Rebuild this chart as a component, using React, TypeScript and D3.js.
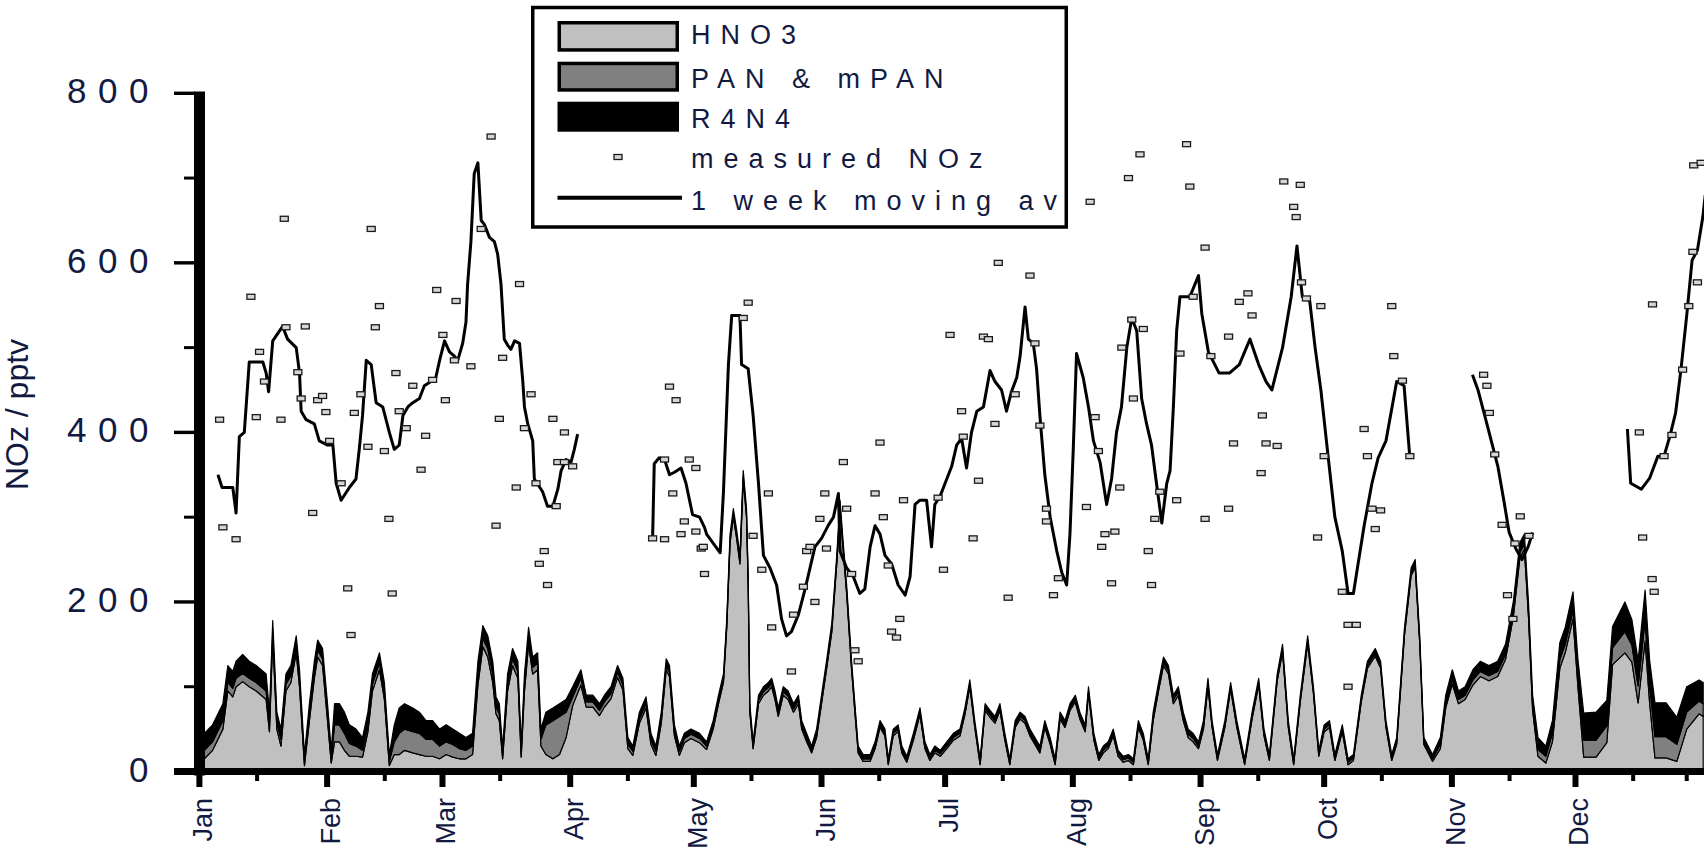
import React from "react";
import * as d3 from "d3";

// ---------- data ----------
// stacked area: day of year and layer values (pptv)
const areaDays = [
  0, 1.2, 3.2, 5.7, 6.9, 8.1, 8.9, 10.5, 12.1, 13.8,
  16.2, 17, 17.8, 18.8, 19.8, 21, 22.2, 23.5, 24.3, 25.5,
  26.7, 27.9, 28.7, 29.9, 31.1, 32, 32.8, 34, 35.2, 36.4,
  38, 39.6, 40.9, 42, 43.7, 44.9, 46.1, 47.3, 48.5, 49.8,
  51.8, 53.4, 55, 56.6, 58.3, 59.9, 61.5, 63.1, 64.7, 66.3,
  67.6, 68.8, 70, 71.2, 72, 72.8, 73.6, 74.8, 76, 77.3,
  78.1, 78.9, 79.9, 80.9, 82.1, 82.9, 84.1, 85.8, 87.4, 89,
  90.6, 92.6, 93.9, 95.5, 97.1, 98.3, 99.9, 101.5, 102.8, 104,
  105.2, 106.8, 108.4, 109.6, 110.8, 112.1, 113.3, 114.1, 115.3, 116.5,
  117.7, 119.3, 121.4, 123.1, 124.7, 126, 127.2, 128, 128.8, 129.6,
  130.4, 131.2, 132, 132.8, 133.2, 133.6, 134.4, 135.7, 136.9, 138.1,
  138.9, 139.7, 140.5, 141.7, 142.9, 144.2, 145.4, 146.2, 147.4, 148.6,
  149.8, 151, 152.2, 153.5, 154.7, 155.5, 156.1, 157.1, 158.3, 159.1,
  159.9, 161.1, 162.8, 164, 165.2, 166.4, 167.2, 168.4, 169.6, 170.5,
  171.7, 173.3, 174.9, 176.1, 177.3, 178.5, 179.8, 181.4, 183, 184.6,
  185.8, 187, 188.2, 189.5, 190.7, 191.9, 193.1, 194.3, 195.5, 196.7,
  198, 199.2, 200.4, 201.6, 202.8, 204, 205.2, 206.5, 207.7, 208.9,
  210.1, 211.3, 212.6, 213.7, 215, 215.8, 217.1, 218.3, 219.4, 220.6,
  221.8, 223, 224.2, 225.5, 226.7, 227.9, 229.1, 230.3, 231.5, 232.8,
  234, 235.2, 236.4, 237.6, 238.8, 240, 241.2, 242.5, 243.7, 244.8,
  245.8, 247.1, 248.9, 250.3, 251.8, 253.7, 255.5, 257.1, 258.4, 259.7,
  261.6, 262.9, 264.3, 265.6, 267.2, 269, 270.4, 271.7, 273, 274.3,
  275.6, 277.4, 278.8, 280.1, 282, 283.5, 285.4, 286.7, 288, 289.4,
  290.6, 292.5, 294.1, 295.1, 296.2, 297.2, 299.3, 301.2, 302.5, 304.1,
  305.6, 307.2, 309.1, 310.9, 313, 315.1, 317, 318.9, 320.5, 321.6,
  322.6, 323.6, 324.9, 326.8, 328.4, 330.2, 331.5, 333.4, 334.6, 336,
  339, 341.6, 343, 346, 347.7, 349.2, 350.9, 352, 353.3, 356,
  358.6, 361, 364, 365,
];
const hno3Values = [
  15, 15, 25, 50, 95, 88, 100, 106, 100, 95,
  85, 47, 158, 50, 30, 95, 105, 140, 100, 7,
  60, 110, 135, 125, 60, 10, 35, 35, 25, 18,
  18, 17, 47, 95, 120, 85, 7, 20, 20, 25,
  22, 20, 18, 18, 15, 20, 17, 15, 15, 20,
  102, 147, 135, 105, 68, 60, 15, 95, 125, 110,
  17, 95, 150, 115, 120, 30, 20, 15, 20, 40,
  78, 102, 76, 76, 66, 76, 86, 111, 96, 27,
  19, 57, 75, 32, 19, 57, 120, 112, 42, 19,
  34, 39, 34, 26, 50, 80, 105, 170, 270, 300,
  275, 245, 345, 300, 220, 70, 27, 80, 90, 95,
  100, 85, 65, 90, 85, 70, 80, 50, 35, 22,
  40, 80, 120, 165, 245, 310, 270, 210, 120, 70,
  22, 12, 12, 27, 52, 42, 8, 42, 47, 22,
  11, 37, 67, 27, 13, 22, 18, 27, 37, 42,
  67, 100, 52, 8, 72, 64, 57, 72, 37, 8,
  52, 62, 57, 42, 32, 22, 52, 32, 8, 62,
  52, 72, 82, 62, 47, 92, 37, 13, 22, 27,
  42, 18, 11, 13, 8, 52, 37, 8, 60, 95,
  125, 115, 80, 90, 60, 40, 35, 27, 50, 100,
  52, 13, 52, 97, 52, 8, 62, 102, 42, 13,
  107, 141, 52, 8, 82, 151, 92, 18, 47, 52,
  13, 47, 8, 13, 82, 122, 136, 122, 52, 13,
  32, 161, 231, 241, 151, 32, 12, 27, 75, 103,
  80, 85, 102, 112, 107, 112, 132, 182, 252, 262,
  182, 72, 18, 10, 35, 122, 140, 180, 100, 17,
  17, 34, 126, 140, 129, 81, 154, 81, 16, 16,
  12, 50, 68, 65,
];
const panValues = [
  10, 10, 10, 10, 10, 10, 10, 10, 10, 10,
  10, 8, 8, 8, 8, 8, 8, 8, 8, 5,
  8, 8, 8, 8, 8, 5, 20, 20, 20, 15,
  12, 8, 8, 8, 8, 8, 5, 15, 25, 25,
  25, 25, 20, 20, 15, 15, 15, 12, 10, 10,
  10, 10, 10, 10, 8, 8, 5, 8, 8, 8,
  5, 8, 8, 8, 8, 8, 35, 45, 45, 30,
  10, 8, 6, 6, 6, 6, 6, 6, 6, 5,
  5, 5, 5, 5, 5, 5, 5, 5, 5, 5,
  5, 5, 5, 4, 4, 4, 4, 4, 4, 4,
  4, 4, 4, 4, 4, 4, 3, 4, 4, 4,
  4, 4, 4, 4, 4, 4, 4, 4, 4, 3,
  4, 4, 4, 4, 4, 4, 4, 4, 4, 4,
  3, 3, 3, 3, 3, 3, 3, 3, 3, 3,
  3, 3, 3, 3, 3, 3, 3, 3, 3, 3,
  3, 3, 3, 3, 3, 3, 3, 3, 3, 3,
  3, 3, 3, 3, 3, 3, 3, 3, 3, 3,
  3, 3, 3, 3, 3, 3, 3, 3, 3, 3,
  3, 3, 3, 3, 3, 3, 3, 3, 4, 4,
  4, 4, 4, 4, 4, 4, 4, 3, 4, 4,
  3, 3, 3, 3, 3, 3, 3, 3, 3, 3,
  3, 3, 3, 3, 3, 3, 3, 3, 3, 3,
  3, 3, 3, 3, 3, 3, 3, 3, 3, 3,
  3, 3, 3, 3, 3, 3, 3, 5, 5, 5,
  5, 5, 6, 6, 6, 6, 6, 6, 6, 6,
  6, 6, 8, 8, 10, 10, 10, 10, 10, 20,
  20, 20, 20, 25, 20, 20, 25, 20, 25, 25,
  20, 20, 15, 15,
];
const r4n4Values = [
  20, 20, 20, 20, 20, 20, 20, 22, 20, 20,
  20, 15, 12, 12, 12, 12, 12, 12, 12, 8,
  12, 12, 12, 12, 12, 10, 25, 25, 25, 22,
  20, 15, 15, 12, 12, 12, 8, 20, 30, 30,
  28, 25, 22, 22, 20, 20, 18, 18, 15, 15,
  18, 15, 15, 15, 12, 12, 8, 12, 12, 12,
  8, 12, 12, 12, 12, 12, 15, 15, 15, 15,
  12, 10, 8, 8, 8, 8, 8, 8, 8, 8,
  6, 8, 8, 8, 6, 8, 8, 8, 8, 6,
  6, 6, 6, 5, 6, 6, 6, 6, 6, 6,
  6, 6, 6, 6, 6, 6, 5, 6, 6, 6,
  6, 6, 6, 6, 6, 6, 6, 6, 6, 5,
  6, 6, 6, 6, 6, 6, 6, 6, 6, 6,
  5, 5, 5, 5, 5, 5, 4, 5, 5, 5,
  4, 5, 5, 5, 4, 5, 4, 5, 5, 5,
  5, 5, 5, 4, 5, 5, 5, 5, 5, 4,
  5, 5, 5, 5, 5, 5, 5, 5, 4, 5,
  5, 5, 5, 5, 5, 5, 5, 4, 5, 5,
  5, 4, 4, 4, 4, 5, 5, 4, 6, 6,
  6, 6, 6, 6, 6, 6, 6, 5, 6, 6,
  5, 4, 5, 5, 5, 4, 5, 5, 5, 4,
  5, 6, 5, 4, 5, 6, 5, 4, 5, 5,
  4, 5, 4, 4, 5, 5, 6, 5, 5, 4,
  5, 6, 6, 6, 6, 5, 5, 8, 10, 12,
  10, 10, 12, 12, 12, 12, 12, 12, 12, 12,
  12, 12, 14, 12, 15, 20, 20, 22, 22, 32,
  33, 30, 25, 35, 30, 30, 35, 30, 40, 40,
  32, 30, 25, 25,
];

// measured NOz (day of year, pptv)
const noxDays = [
  4.9, 5.7, 8.9, 12.5, 13.8, 14.6, 15.8, 19.8, 20.6, 21,
  23.9, 24.7, 25.7, 27.5, 28.7, 29.9, 30.7, 31.6, 34.4, 36,
  36.8, 37.6, 39.2, 40.9, 41.7, 42.7, 43.7, 44.9, 46, 46.8,
  47.7, 48.5, 50.2, 51.8, 53.8, 54.9, 56.6, 57.6, 59.1, 59.7,
  61.9, 62.3, 65.9, 68.4, 70.8, 72, 72.8, 73.6, 76.9, 77.7,
  78.9, 80.5, 81.7, 82.5, 83.7, 84.5, 85.8, 86.6, 87, 88.6,
  88.6, 90.6,
  110, 112.9, 112.9, 114.1, 114.9, 115.7, 116.9, 117.7, 118.9, 120.5,
  120.5, 121.8, 122.6, 122.3, 132, 133.2, 134.4, 136.5, 138.1, 138.9,
  143.7, 144.2, 146.6, 147.4, 148.2, 149.4, 150.6, 151.8, 152.2, 156.3,
  157.1, 158.3, 159.1, 159.9, 164, 165.2, 166, 167.2, 168, 169.2,
  170, 170.9, 179.3, 180.6, 182.2, 185, 185.4, 187.8, 189.1, 190.3,
  191.5, 193.1, 193.9, 196.3, 198, 201.6, 202.8, 204, 205.6, 205.6,
  207.3, 208.5, 215.3, 216.2, 217.4, 218.2, 219, 219.8, 221.4, 222.2,
  223.4, 223.9, 225.5, 226.3, 226.7, 228.3, 229.1, 230.3, 231.1, 231.9,
  233.1, 237.2, 238, 239.6, 240.4, 241.2, 244.1, 244.1, 245.5, 249.8,
  249.8, 251, 252.4, 254.5, 255.5, 258, 258.9, 257.7, 261.6, 263.2,
  265.6, 266.2, 267.2, 267.5, 268.7, 271.4, 272.2, 273, 277.4, 278.8,
  280.8, 278.8, 282.7, 283.5, 284.6, 285.4, 286.7, 289.4, 289.9, 292,
  293.8,
  311.7, 312.5, 313.1, 314.4, 316.2, 317.5, 318.8, 319.3, 320.6, 322.7,
  349.5, 350.3, 352.6, 353.1, 352.7, 355.5, 357.4, 360, 361.5, 362.5,
  363.6, 362.7, 364.5,
];
const noxValues = [
  415, 288, 274, 560, 418, 495, 460, 415, 652, 524,
  471, 440, 525, 305, 438, 443, 424, 390, 340, 216,
  161, 423, 445, 383, 640, 524, 549, 378, 298, 210,
  470, 425, 405, 455, 356, 396, 462, 568, 515, 438,
  485, 555, 478, 640, 749, 290, 416, 488, 335, 575,
  405, 445, 340, 245, 260, 220, 416, 313, 365, 400,
  365, 360,
  275, 368, 274, 454, 328, 438, 280, 295, 368, 358,
  283, 263, 233, 265, 535, 553, 278, 238, 328, 170,
  118, 185, 218, 260, 265, 200, 298, 328, 263, 365,
  310, 233, 143, 130, 328, 388, 300, 243, 165, 158,
  180, 320, 323, 238, 515, 425, 395, 275, 343, 513,
  510, 410, 600, 205, 445, 585, 505, 408, 310, 295,
  208, 228, 312, 672, 418, 378, 265, 280, 222, 283,
  335, 500, 700, 533, 440, 728, 522, 260, 220, 298,
  330, 320, 493, 740, 690, 560, 298, 618, 490, 513,
  310, 387, 554, 564, 538, 420, 387, 352, 384, 696,
  666, 654, 692, 577, 558, 276, 549, 372, 212, 173,
  173, 100, 404, 372, 310, 286, 308, 549, 490, 461,
  372,
  468, 455, 423, 374, 291, 208, 180, 269, 301, 278,
  400, 276, 227, 212, 551, 372, 397, 474, 549, 613,
  577, 715, 718,
];

// 1 week moving average (null = gap)
const avgDays = [
  4.5, 5.5, 8.1, 8.9, 9.7, 10.9, 12.1, 15.4, 16.2, 16.8,
  17.8, 20.2, 21.4, 23.5, 24.3, 24.7, 25.9, 27.9, 29.1, 31.1,
  32.4, 33.2, 34.4, 36.4, 38, 38.8, 39.6, 40.5, 41.7, 42.9,
  44.5, 46.1, 47.3, 48.5, 49.4, 50.6, 51.8, 53.4, 54.6, 56.2,
  57.4, 58.3, 59.5, 60.7, 61.9, 62.7, 63.9, 64.7, 65.1, 65.9,
  66.7, 67.6, 68.4, 69.2, 70.4, 71.6, 72.4, 73.2, 74, 74.8,
  75.6, 76.5, 77.7, 78.5, 78.9, 79.7, 80.9, 81.3, 83.3, 84.5,
  85.8, 87, 87.8, 89, 90.2, 91, 91.8,
  100,
  110, 110.4, 111.6, 112.9, 114.1, 115.3, 116.9, 118.1, 119.7, 121.4,
  122.6, 123.1, 126.4, 127.2, 128.4, 129.2, 131.2, 131.6, 133.2, 134.4,
  135.7, 136.9, 138.5, 140.1, 141.3, 142.5, 143.7, 145.4, 147, 148.2,
  149.4, 151, 152.6, 153.9, 155.1, 155.5, 157.1, 158.7, 160.3, 161.5,
  162.8, 164, 165.2, 166.4, 168, 169.6, 171.3, 172.5, 173.7, 174.9,
  176.5, 177.7, 178.5, 179.8, 181, 182.6, 183.8, 185, 186.2, 187.4,
  188.7, 190.3, 191.9, 193.1, 194.7, 195.9, 197.1, 198.4, 199.2, 200.4,
  201.2, 202.4, 203.2, 204, 205.2, 206.5, 208.1, 209.3, 210.5, 211.3,
  212.1, 212.9, 214.5, 215.8, 217, 218.6, 220.2, 221.4, 222.6, 223.8,
  225.1, 226.3, 227.5, 228.7, 229.9, 231.1, 232.3, 233.6, 234.8, 235.6,
  236.4, 237.2, 238, 240.4, 242.5, 243.3, 244.9, 247.5, 250, 252.4,
  255, 257.1, 258.9, 260.3, 262.9, 265, 266.4, 267.7, 269.5, 270.8,
  272.2, 274, 275.6, 277.4, 278.8, 280.1, 281.4, 282.7, 284.6, 286.1,
  288, 290.6, 292.4, 293.8,
  300,
  309, 310.4, 312.5, 315.2, 316.6, 317.9, 319.5, 321, 322.5, 323.6,
  330,
  346.6, 347.4, 350, 352, 354, 355.5, 357, 358.3, 359.6, 361,
  362.3, 363.6, 364.9, 365.5,
];
const avgValues: (number | null)[] = [
  350, 335, 335, 305, 395, 400, 483, 483, 470, 448,
  508, 525, 510, 500, 470, 425, 415, 410, 390, 385,
  385, 340, 320, 335, 345, 380, 420, 485, 480, 435,
  430, 400, 380, 385, 420, 430, 435, 440, 455, 460,
  465, 485, 508, 495, 490, 485, 505, 530, 575, 625,
  705, 718, 650, 645, 630, 625, 610, 575, 510, 503,
  498, 508, 505, 460, 430, 410, 390, 345, 330, 313,
  313, 333, 355, 368, 365, 380, 398,
  null,
  275, 363, 370, 368, 350, 353, 358, 340, 303, 300,
  288, 280, 258, 330, 480, 538, 538, 480, 475, 420,
  340, 255, 240, 220, 180, 160, 165, 185, 215, 240,
  265, 275, 290, 300, 328, 260, 240, 230, 210, 215,
  265, 290, 280, 255, 245, 220, 208, 230, 315, 320,
  320, 265, 315, 325, 340, 360, 385, 393, 358, 400,
  425, 430, 473, 460, 450, 425, 448, 465, 490, 548,
  510, 505, 475, 420, 350, 300, 260, 235, 220, 280,
  380, 493, 465, 430, 390, 365, 315, 345, 400, 430,
  500, 535, 520, 440, 410, 385, 340, 293, 340, 355,
  430, 520, 560, 560, 585, 540, 495, 470, 470, 480,
  510, 480, 460, 450, 500, 560, 620, 560, 555, 500,
  450, 370, 300, 260, 210, 210, 250, 290, 340, 370,
  390, 460, 455, 370,
  null,
  468, 449, 410, 359, 320, 282, 263, 250, 265, 282,
  null,
  404, 340, 333, 346, 372, 372, 397, 423, 474, 538,
  603, 615, 654, 680,
];

const yMajorTicks = [0, 200, 400, 600, 800];
const yMinorTicks = [100, 300, 500, 700];
const legendLabels = ["HNO3", "PAN & mPAN", "R4N4", "measured NOz", "1 week moving av"];
const layerKeys = ["hno3", "pan", "r4n4"];
const layerColors = ["#c0c0c0", "#808080", "#000000"];

// ---------- drawing ----------
const W = 1704;
const H = 862;
const FONT = "'Liberation Sans', Arial, sans-serif";
const TXT = "#121a42";

function Marker({ cx, cy }: { cx: number; cy: number }) {
  return (
    <rect x={cx - 4} y={cy - 2.5} width={8} height={5} fill="#d6d6d6" stroke="#1a1a1a" strokeWidth={1.3} />
  );
}

export default function App() {
  const t0 = Date.UTC(2003, 0, 1);
  const toDate = (d: number) => new Date(t0 + d * 864e5);
  const x = d3.scaleUtc().domain([toDate(0), toDate(365)]).range([199.4, 1703.2]);
  const y = d3.scaleLinear().domain([0, 800]).range([771.5, 93.3]);

  const rows = areaDays.map((d, i) => ({
    date: toDate(d),
    hno3: hno3Values[i],
    pan: panValues[i],
    r4n4: r4n4Values[i],
  }));
  const stacked = d3.stack<any>().keys(layerKeys)(rows);
  const area = d3
    .area<any>()
    .x((d: any) => x(d.data.date))
    .y0((d: any) => y(d[0]))
    .y1((d: any) => y(d[1]));

  const avgPts = avgDays.map((d, i) => [d, avgValues[i]] as [number, number | null]);
  const line = d3
    .line<[number, number | null]>()
    .defined((d) => d[1] != null)
    .x((d) => x(toDate(d[0])))
    .y((d) => y(d[1] as number));

  const months = d3.utcMonth.range(toDate(0), toDate(365));
  const minorX = months.map((m) => d3.utcDay.offset(m, 14)).concat([toDate(361)]);
  const fmt = d3.utcFormat("%b");

  return (
    <div style={{ position: "absolute", left: 0, top: 0, width: W, height: H, background: "#fff" }}>
      <svg width={W} height={H} style={{ display: "block" }} fontFamily={FONT}>
        <rect x={0} y={0} width={W} height={H} fill="#fff" />
        {/* stacked areas */}
        {stacked.map((s, i) => (
          <path key={layerKeys[i]} d={area(s as any) || ""} fill={layerColors[i]} stroke="#000" strokeWidth={1.2} strokeLinejoin="round" />
        ))}
        {/* moving average */}
        <path d={line(avgPts) || ""} fill="none" stroke="#000" strokeWidth={3} strokeLinejoin="round" />
        {/* measured NOz */}
        {noxDays.map((d, i) => (
          <Marker key={i} cx={x(toDate(d))} cy={y(noxValues[i])} />
        ))}

        {/* x axis */}
        <rect x={174} y={768} width={W - 174} height={7} fill="#000" />
        {months.map((m, i) => (
          <rect key={"mt" + i} x={x(m) - 3} y={774} width={6} height={13} fill="#000" />
        ))}
        {minorX.map((m, i) => (
          <rect key={"mn" + i} x={x(m) - 2} y={774} width={4} height={7} fill="#000" />
        ))}
        {months.map((m, i) => (
          <text
            key={"ml" + i}
            transform={`translate(${x(m) + 13},798) rotate(-90)`}
            textAnchor="end"
            fontSize={27}
            fill={TXT}
          >
            {fmt(m)}
          </text>
        ))}

        {/* y axis */}
        <rect x={194} y={91.5} width={11} height={684} fill="#000" />
        {yMajorTicks.map((v) => (
          <rect key={"yt" + v} x={174} y={y(v) - 1.7} width={21} height={3.4} fill="#000" />
        ))}
        {yMinorTicks.map((v) => (
          <rect key={"ym" + v} x={184} y={y(v) - 1.5} width={11} height={3} fill="#000" />
        ))}
        {yMajorTicks.map((v) => (
          <text key={"yl" + v} x={160} y={y(v) + 10} textAnchor="end" fontSize={35} letterSpacing={11.5} fill={TXT}>
            {String(v)}
          </text>
        ))}
        <text transform="translate(28,414.5) rotate(-90)" textAnchor="middle" fontSize={32} fill={TXT}>
          NOz / pptv
        </text>

        {/* legend */}
        <rect x={532.75} y={7.5} width={533.5} height={219.5} fill="#fff" stroke="#000" strokeWidth={3.5} />
        <rect x={559.25} y={22.75} width={118} height={27.2} fill={layerColors[0]} stroke="#000" strokeWidth={3.5} />
        <rect x={559.25} y={63.45} width={118} height={26.5} fill={layerColors[1]} stroke="#000" strokeWidth={3.5} />
        <rect x={557.5} y={101.7} width={121.5} height={30} fill={layerColors[2]} />
        <Marker cx={618} cy={157} />
        <line x1={557.5} x2={682} y1={197.7} y2={197.7} stroke="#000" strokeWidth={4} />
        {legendLabels.map((t, i) => (
          <text key={t} x={691} y={[44.3, 88.3, 128.3, 168.3, 210][i]} fontSize={27} letterSpacing={10} fill={TXT}>
            {t}
          </text>
        ))}
      </svg>
    </div>
  );
}
